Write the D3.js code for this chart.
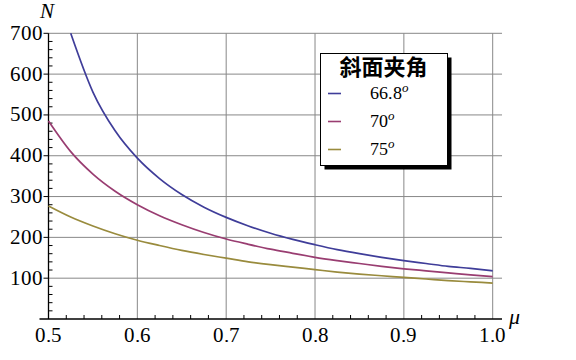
<!DOCTYPE html>
<html>
<head>
<meta charset="utf-8">
<script src="https://cdn.jsdelivr.net/npm/d3@7"></script>
<style>
  @font-face { font-family: "TickSerif"; font-style: normal; src: local("Liberation Serif"), local("LiberationSerif"); }
  @font-face { font-family: "TickSerif"; font-style: italic; src: local("Liberation Serif Italic"), local("LiberationSerif-Italic"); }
  body { margin: 0; background: #fff; }
  svg text { font-family: "TickSerif", "Liberation Serif", "Times New Roman", serif; }
  svg text.cjk { font-family: "Noto Sans CJK SC", sans-serif; }
</style>
</head>
<body>
<svg id="chart" width="576" height="360"></svg>
<script>
// friction coefficient (x) sampled along the curves
const muValues = [0.5, 0.525, 0.55, 0.575, 0.6, 0.625, 0.65, 0.675, 0.7, 0.725, 0.75,
                  0.775, 0.8, 0.825, 0.85, 0.875, 0.9, 0.925, 0.95, 0.975, 1.0];

// N for each incline angle (null = above the plot range)
const n668 = [null, 700, 556, 461, 394, 344, 305, 274, 249, 228, 210,
              195, 182, 170, 160, 151, 143, 136, 129, 124, 118];
const n70 = [485, 410, 355, 313, 280, 253, 231, 212, 196, 183, 171,
             161, 151, 143, 136, 129, 123, 118, 113, 108, 104];
const n75 = [277, 250, 228, 209, 193, 180, 168, 158, 149, 140, 133,
             127, 121, 115, 110, 106, 102, 98, 94, 91, 88];

const seriesNames = ['66.8', '70', '75'];
const seriesColors = ['#3f3d99', '#993d71', '#998b3d'];
const legendTitle = '斜面夹角';

const xTicks = [0.5, 0.6, 0.7, 0.8, 0.9, 1.0];
const yTicks = [100, 200, 300, 400, 500, 600, 700];

class linePlot {
  constructor(_config, _data) {
    this.config = {
      parentElement: _config.parentElement,
      containerWidth: _config.containerWidth || 576,
      containerHeight: _config.containerHeight || 360,
      margin: { top: 33.3, bottom: 41, right: 83.3, left: 48.5 }
    }
    this.data = _data;
    this.initVis();
  }

  initVis() {
    let vis = this;
    vis.width = vis.config.containerWidth - vis.config.margin.left - vis.config.margin.right;
    vis.height = vis.config.containerHeight - vis.config.margin.top - vis.config.margin.bottom;

    vis.svg = d3.select(vis.config.parentElement);

    vis.chart = vis.svg.append('g')
      .attr('transform', `translate(${vis.config.margin.left},${vis.config.margin.top})`);

    vis.xScale = d3.scaleLinear()
      .domain([0.5, 1.0])
      .range([0, vis.width]);

    vis.yScale = d3.scaleLinear()
      .domain([0, 700])
      .range([vis.height, 0]);

    // axis reaches a little past 1.0
    const xEnd = vis.xScale(1.0105);

    // grid
    vis.chart.append('g').selectAll('line')
      .data(xTicks.slice(1))
      .join('line')
      .attr('x1', d => vis.xScale(d)).attr('x2', d => vis.xScale(d))
      .attr('y1', vis.yScale(700)).attr('y2', vis.yScale(0))
      .attr('stroke', '#888').attr('stroke-width', 1);

    vis.chart.append('g').selectAll('line')
      .data(yTicks)
      .join('line')
      .attr('x1', 0).attr('x2', xEnd)
      .attr('y1', d => vis.yScale(d)).attr('y2', d => vis.yScale(d))
      .attr('stroke', '#888').attr('stroke-width', 1);

    // minor ticks (inward)
    const xMinor = d3.range(0.52, 1.0101, 0.02).filter(v => Math.abs(v * 10 - Math.round(v * 10)) > 0.01);
    vis.chart.append('g').selectAll('line')
      .data(xMinor)
      .join('line')
      .attr('x1', d => vis.xScale(d)).attr('x2', d => vis.xScale(d))
      .attr('y1', vis.height).attr('y2', vis.height - 4)
      .attr('stroke', '#000').attr('stroke-width', 1);

    const yMinor = d3.range(20, 700, 20).filter(v => v % 100 !== 0);
    vis.chart.append('g').selectAll('line')
      .data(yMinor)
      .join('line')
      .attr('x1', 0).attr('x2', 4)
      .attr('y1', d => vis.yScale(d)).attr('y2', d => vis.yScale(d))
      .attr('stroke', '#000').attr('stroke-width', 1);

    // major y ticks poke out to the left
    vis.chart.append('g').selectAll('line')
      .data(yTicks)
      .join('line')
      .attr('x1', -5).attr('x2', 0)
      .attr('y1', d => vis.yScale(d)).attr('y2', d => vis.yScale(d))
      .attr('stroke', '#000').attr('stroke-width', 1);

    // axis lines
    vis.chart.append('line')
      .attr('x1', -9).attr('x2', xEnd)
      .attr('y1', vis.height).attr('y2', vis.height)
      .attr('stroke', '#000').attr('stroke-width', 1.3);
    vis.chart.append('line')
      .attr('x1', 0).attr('x2', 0)
      .attr('y1', vis.yScale(700)).attr('y2', vis.height)
      .attr('stroke', '#000').attr('stroke-width', 1.3);

    // tick labels
    vis.chart.append('g').selectAll('text')
      .data(xTicks)
      .join('text')
      .attr('x', d => vis.xScale(d))
      .attr('y', vis.height + 23)
      .attr('text-anchor', 'middle')
      .style('font-size', '21px')
      .text(d => d.toFixed(1));

    vis.chart.append('g').selectAll('text')
      .data(yTicks)
      .join('text')
      .attr('x', -5.5)
      .attr('y', d => vis.yScale(d) + 6.5)
      .attr('text-anchor', 'end')
      .style('font-size', '21px')
      .text(d => d);

    // axis titles
    vis.svg.append('text')
      .attr('x', 47).attr('y', 18)
      .attr('text-anchor', 'middle')
      .style('font-style', 'italic')
      .style('font-size', '21px')
      .text('N');

    vis.svg.append('text')
      .attr('x', 509).attr('y', 324)
      .style('font-style', 'italic')
      .style('font-size', '22px')
      .text('μ');

    // curves
    vis.line = d3.line()
      .defined(d => d.n !== null)
      .x(d => vis.xScale(d.mu))
      .y(d => vis.yScale(d.n))
      .curve(d3.curveMonotoneX);

    vis.chart.selectAll('.curve')
      .data(vis.data)
      .join('path')
      .attr('class', 'curve')
      .attr('fill', 'none')
      .attr('stroke', d => d.color)
      .attr('stroke-width', 1.7)
      .attr('d', d => vis.line(d.values));

    vis.renderLegend();
  }

  renderLegend() {
    let vis = this;
    const lg = vis.svg.append('g').attr('transform', 'translate(320.5,53.5)');
    const w = 127, h = 112;

    lg.append('rect')
      .attr('x', 4).attr('y', 4).attr('width', w).attr('height', h)
      .attr('fill', '#000');
    lg.append('rect')
      .attr('width', w).attr('height', h)
      .attr('fill', '#fff').attr('stroke', '#000').attr('stroke-width', 1);

    lg.append('text')
      .attr('class', 'cjk')
      .attr('x', 63).attr('y', 21.5)
      .attr('text-anchor', 'middle')
      .style('font-weight', 'bold')
      .style('font-size', '22px')
      .text(legendTitle);

    const rows = lg.selectAll('.leg')
      .data(vis.data)
      .join('g')
      .attr('class', 'leg')
      .attr('transform', (d, i) => `translate(0,${40 + i * 28})`);

    rows.append('line')
      .attr('x1', 7.5).attr('x2', 20.5)
      .attr('y1', 0).attr('y2', 0)
      .attr('stroke', d => d.color).attr('stroke-width', 1.6);

    const label = rows.append('text')
      .attr('x', 49.5).attr('y', 5)
      .style('font-size', '18px');
    label.append('tspan').text(d => d.name);
    label.append('tspan')
      .attr('dy', -7)
      .style('font-size', '13px')
      .style('font-style', 'italic')
      .text('o');
  }
}

const plotData = [n668, n70, n75].map((arr, i) => ({
  name: seriesNames[i],
  color: seriesColors[i],
  values: muValues.map((mu, j) => ({ mu: mu, n: arr[j] }))
}));

new linePlot({ parentElement: '#chart' }, plotData);
</script>
</body>
</html>
